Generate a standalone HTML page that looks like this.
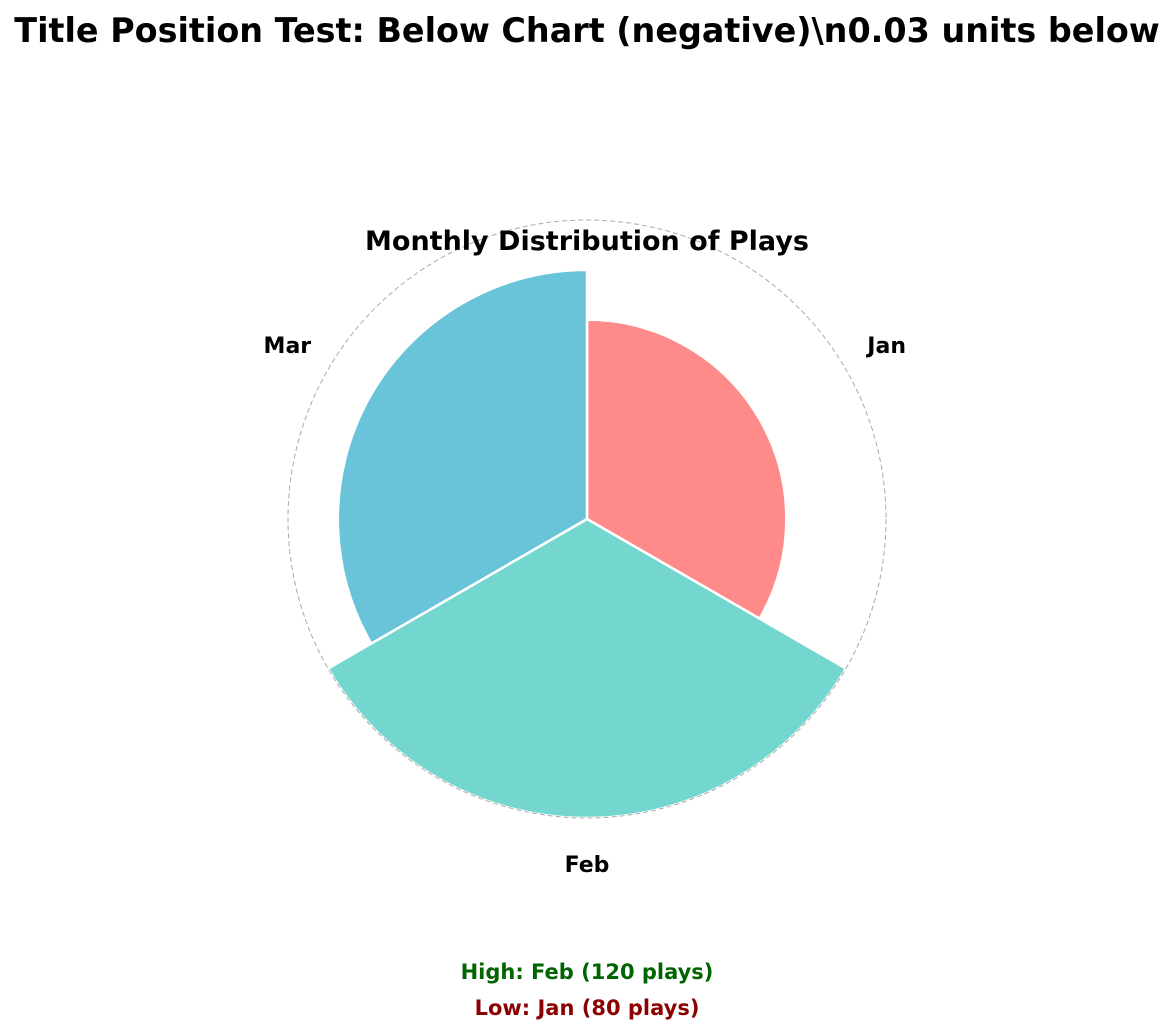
<!DOCTYPE html>
<html><head><meta charset="utf-8"><style>
body{margin:0;background:#fff;}
svg{display:block;font-family:"DejaVu Sans","Liberation Sans",sans-serif;}
</style></head><body>
<svg id="chart" width="1174" height="1034" viewBox="0 0 1174 1034">
<text x="587" y="42" text-anchor="middle" font-size="33.4" font-weight="bold">Title Position Test: Below Chart (negative)\n0.03 units below</text>
<g id="bars"></g>
<circle cx="587" cy="519" r="299" fill="none" stroke="#aaa" stroke-dasharray="5,3" stroke-width="1"/>
<text x="587" y="250" text-anchor="middle" font-size="27" font-weight="bold">Monthly Distribution of Plays</text>
<g id="labels"></g>
<text x="587" y="979" text-anchor="middle" font-size="21" font-weight="bold" fill="#006400">High: Feb (120 plays)</text>
<text x="587" y="1015" text-anchor="middle" font-size="21" font-weight="bold" fill="#8b0000">Low: Jan (80 plays)</text>
</svg>
<script>
const categories=["Jan","Feb","Mar"];
const values=[80,120,100];
const colors=["#ff8a8a","#74d7cf","#6ac4d9"];
const rMax=120;
const cx=587,cy=519,R=299,labelR=346;
const NS="http://www.w3.org/2000/svg";
function rScale(v){return v/rMax*R;}
function pt(r,a){const t=a*Math.PI/180;return [cx+r*Math.sin(t),cy-r*Math.cos(t)];}
const bars=document.getElementById('bars'),labels=document.getElementById('labels');
const step=360/categories.length;
categories.forEach((c,i)=>{
  const a0=i*step,a1=(i+1)*step,r=rScale(values[i]);
  const p0=pt(r,a0),p1=pt(r,a1);
  const p=document.createElementNS(NS,'path');
  p.setAttribute('d',`M${cx},${cy}L${p0[0]},${p0[1]}A${r},${r} 0 0 1 ${p1[0]},${p1[1]}Z`);
  p.setAttribute('fill',colors[i]);
  p.setAttribute('stroke','#fff');
  p.setAttribute('stroke-width','2.5');
  
  
  bars.appendChild(p);
  const lp=pt(labelR,(a0+a1)/2);
  const t=document.createElementNS(NS,'text');
  t.setAttribute('x',lp[0]);t.setAttribute('y',lp[1]+7);
  t.setAttribute('text-anchor','middle');t.setAttribute('font-size','22');t.setAttribute('font-weight','bold');
  t.textContent=c;
  
  
  labels.appendChild(t);
});
</script>
</body></html>
